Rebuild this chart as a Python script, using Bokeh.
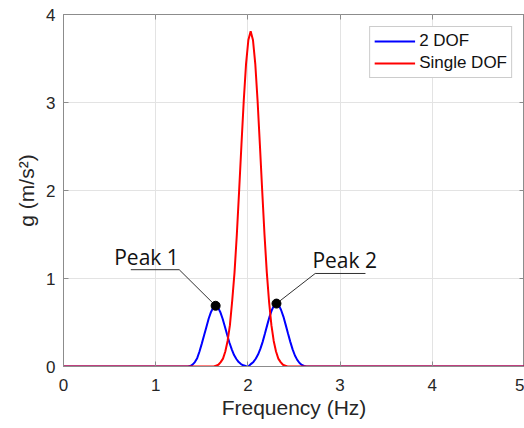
from bokeh.plotting import figure
from bokeh.models import LinearAxis, Range1d, Legend, LegendItem, FixedTicker
from bokeh.embed import file_html
from bokeh.resources import INLINE
from bokeh.core.properties import value

# ---- data ----
freq_2dof = [0.0, 1.30, 1.35, 1.375, 1.40, 1.425, 1.45, 1.475, 1.50, 1.525, 1.55, 1.575,
             1.60, 1.625, 1.65, 1.675, 1.70, 1.725, 1.75, 1.775, 1.80, 1.825, 1.85,
             1.875, 1.90, 1.925, 1.95, 1.975, 2.00, 2.01, 2.035, 2.06, 2.085, 2.11,
             2.135, 2.16, 2.185, 2.21, 2.235, 2.26, 2.285, 2.31, 2.335, 2.36, 2.385,
             2.41, 2.435, 2.46, 2.485, 2.51, 2.535, 2.56, 2.585, 2.61, 2.635, 2.70, 5.0]
g_2dof = [0.0, 0.0, 0.0, 0.005, 0.022, 0.05, 0.095, 0.17, 0.26, 0.355, 0.45, 0.545,
          0.62, 0.672, 0.69, 0.672, 0.62, 0.545, 0.455, 0.36, 0.27, 0.195, 0.13,
          0.085, 0.05, 0.028, 0.014, 0.005, 0.002, 0.006, 0.03, 0.052, 0.088, 0.136,
          0.20, 0.28, 0.375, 0.473, 0.567, 0.642, 0.697, 0.715, 0.697, 0.642, 0.567,
          0.473, 0.375, 0.28, 0.195, 0.125, 0.075, 0.04, 0.018, 0.006, 0.0, 0.0, 0.0]

freq_single = [0.0, 1.63, 1.655, 1.68, 1.705, 1.73, 1.755, 1.78, 1.805, 1.83, 1.855,
               1.88, 1.905, 1.93, 1.955, 1.98, 2.005, 2.03, 2.055, 2.08, 2.105, 2.13,
               2.155, 2.18, 2.205, 2.23, 2.255, 2.28, 2.305, 2.33, 2.355, 2.38, 2.405,
               2.43, 5.0]
g_single = [0.0, 0.0, 0.01, 0.02, 0.05, 0.09, 0.17, 0.29, 0.47, 0.75, 1.07,
            1.50, 2.00, 2.52, 3.02, 3.44, 3.71, 3.81, 3.71, 3.44, 3.02, 2.52,
            2.00, 1.50, 1.07, 0.73, 0.47, 0.29, 0.17, 0.09, 0.05, 0.02, 0.01,
            0.0, 0.0]

x_ticks = [0, 1, 2, 3, 4, 5]
y_ticks = [0, 1, 2, 3, 4]
series_names = ["2 DOF", "Single DOF"]

peak_labels = ["Peak 1", "Peak 2"]
peak_x = [1.65, 2.31]
peak_y = [0.69, 0.715]
label_x = [0.55, 2.70]
label_y = [1.25, 1.215]
leader_x = [[0.73, 1.255, 1.65], [3.275, 2.73, 2.31]]
leader_y = [[1.10, 1.10, 0.69], [1.057, 1.057, 0.715]]

TXT = "#262626"
AX = "#8c8c8c"
FONT = "Liberation Sans"

p = figure(width=524, height=428, x_range=Range1d(0, 5), y_range=Range1d(0, 4),
           output_backend="svg", toolbar_location=None,
           min_border_left=63, min_border_right=0, min_border_top=14, min_border_bottom=62)

p.outline_line_color = AX
p.outline_line_width = 1
p.background_fill_color = "white"
p.border_fill_color = "white"

for ax in (p.xaxis[0], p.yaxis[0]):
    ax.major_tick_in = 5
    ax.major_tick_out = 0
    ax.minor_tick_line_color = None
    ax.axis_line_color = AX
    ax.major_tick_line_color = AX
    ax.major_label_text_font = FONT
    ax.major_label_text_font_size = "17px"
    ax.major_label_text_color = TXT
    ax.axis_label_text_font = FONT
    ax.axis_label_text_font_size = "21px"
    ax.axis_label_text_font_style = "normal"
    ax.axis_label_text_color = TXT

p.xaxis.ticker = FixedTicker(ticks=x_ticks)
p.yaxis.ticker = FixedTicker(ticks=y_ticks)
p.xaxis.axis_label = "Frequency (Hz)"
p.yaxis.axis_label = "g (m/s²)"
p.xaxis.major_label_standoff = 12
p.xaxis.axis_label_standoff = 2
p.yaxis.major_label_standoff = 8
p.yaxis.axis_label_standoff = 5

# mirrored ticks on top and right (no labels)
top_ax = LinearAxis(ticker=FixedTicker(ticks=x_ticks), major_tick_in=5, major_tick_out=0,
                    minor_tick_line_color=None, axis_line_color=None,
                    major_tick_line_color=AX, major_label_text_font_size="0px",
                    major_label_text_color=None, major_label_standoff=0)
right_ax = LinearAxis(ticker=FixedTicker(ticks=y_ticks), major_tick_in=5, major_tick_out=0,
                      minor_tick_line_color=None, axis_line_color=None,
                      major_tick_line_color=AX, major_label_text_font_size="0px",
                      major_label_text_color=None, major_label_standoff=0)
p.add_layout(top_ax, "above")
p.add_layout(right_ax, "right")

p.xgrid.ticker = FixedTicker(ticks=x_ticks)
p.ygrid.ticker = FixedTicker(ticks=y_ticks)
p.grid.grid_line_color = "#e3e3e3"
p.grid.grid_line_width = 1

b = p.line(freq_2dof, g_2dof, line_color="#0000ff", line_width=2)
r = p.line(freq_single, g_single, line_color="#ff0000", line_width=2)

# annotations
for lx, ly in zip(leader_x, leader_y):
    p.line(lx, ly, line_color="#303030", line_width=1)
p.scatter(peak_x, peak_y, size=9, fill_color="black", line_color="black")
p.text(label_x, label_y, text=peak_labels, text_font=value("Open Sans"),
       text_font_size="21px", text_color="#111111", text_baseline="middle",
       text_align="left")

legend = Legend(items=[LegendItem(label=series_names[0], renderers=[b]),
                       LegendItem(label=series_names[1], renderers=[r])],
                location="top_right")
legend.margin = 12
legend.padding = 4
legend.spacing = 2
legend.glyph_width = 41
legend.glyph_height = 20
legend.label_height = 20
legend.label_standoff = 4
legend.label_text_font = FONT
legend.label_text_font_size = "17px"
legend.label_text_color = "#111111"
legend.border_line_color = "#999999"
legend.border_line_width = 1
legend.background_fill_color = "white"
legend.background_fill_alpha = 1.0
p.add_layout(legend)

open("out.html", "w").write(file_html(p, INLINE))
